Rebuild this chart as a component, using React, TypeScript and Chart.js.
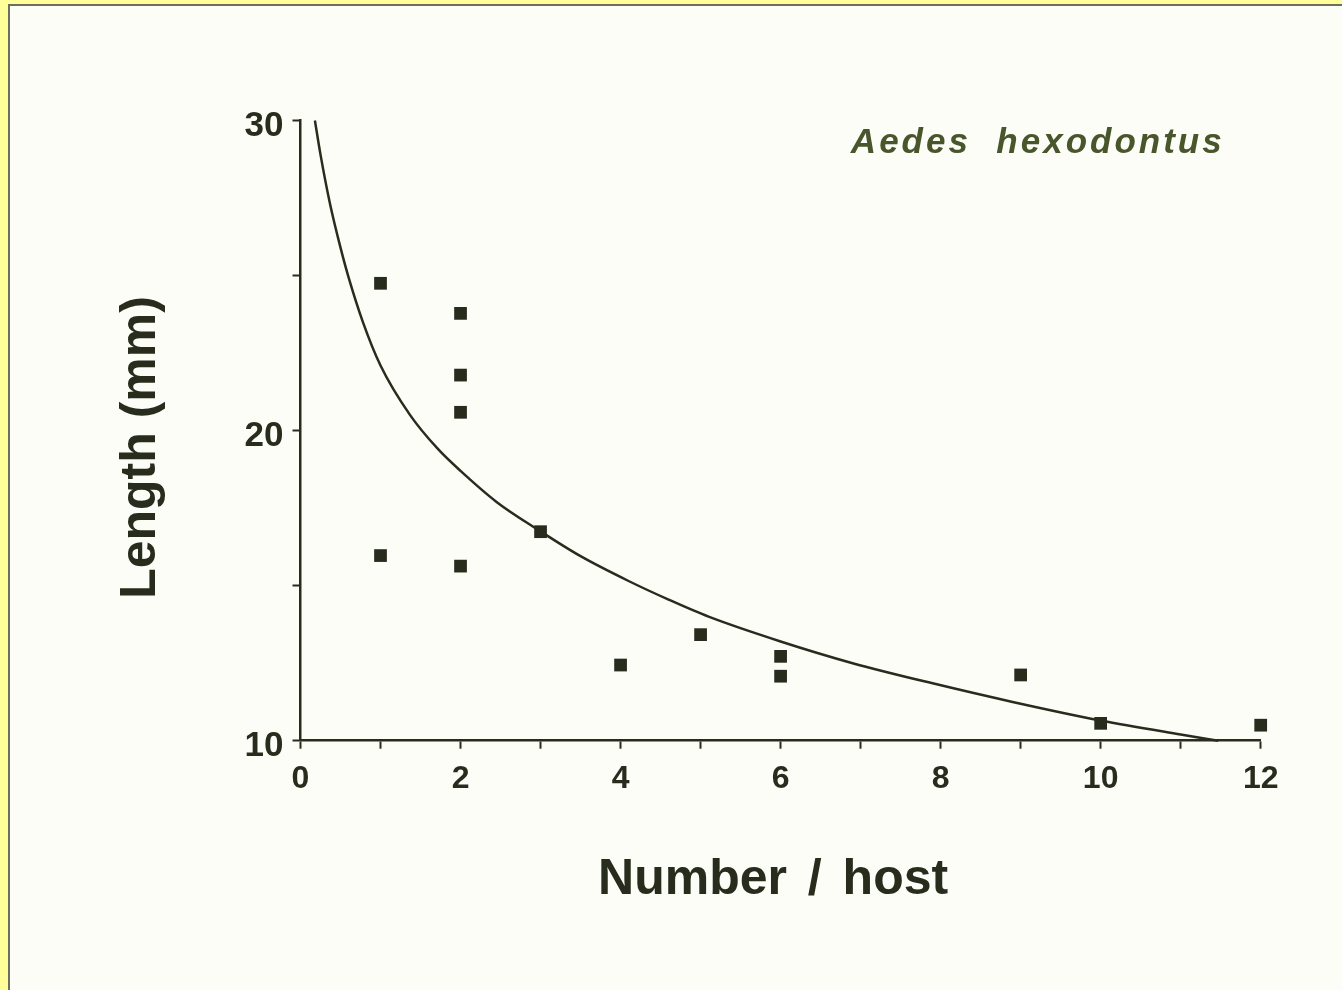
import React, { useEffect, useRef } from "react";
import { Chart, registerables } from "chart.js";

Chart.register(...registerables);

// Observed data (Number / host vs Length (mm))
const pointX = [1, 1, 2, 2, 2, 2, 3, 4, 5, 6, 6, 9, 10, 12];
const pointY = [24.75, 15.97, 23.78, 21.79, 20.59, 15.63, 16.74, 12.44, 13.42, 12.72, 12.08, 12.12, 10.56, 10.5];

// Fitted curve
const curveX = [0.18, 0.25, 0.37, 0.5, 0.6, 0.78, 1.0, 1.37, 1.72, 2.0, 2.45, 3.0, 3.5, 4.1, 4.6, 5.1, 6.0, 6.9, 7.9, 8.9, 10.0, 11.0, 11.47];
const curveY = [30, 28.9, 27.3, 25.9, 24.95, 23.5, 22.1, 20.5, 19.4, 18.7, 17.7, 16.75, 15.95, 15.15, 14.55, 14.0, 13.2, 12.5, 11.85, 11.25, 10.65, 10.2, 10.0];

const xTickLabels = ["0", "2", "4", "6", "8", "10", "12"];
const yTickLabels = ["10", "20", "30"];

const speciesLabel = "Aedes  hexodontus";
const xTitle = "Number / host";
const yTitle = "Length (mm)";

const INK = "#282c1d";
const FONT = "'Liberation Sans', Arial, Helvetica, sans-serif";

export default function App() {
  const ref = useRef<HTMLCanvasElement | null>(null);

  useEffect(() => {
    const canvas = ref.current;
    if (!canvas) return;

    const textPlugin = {
      id: "figureTexts",
      afterDatasetsDraw(chart: any) {
        const { ctx, scales, chartArea } = chart;
        ctx.save();
        // species label
        ctx.font = `italic bold 35px ${FONT}`;
        (ctx as any).letterSpacing = "3px";
        ctx.fillStyle = "#49562b";
        ctx.textAlign = "right";
        ctx.textBaseline = "middle";
        ctx.fillText(speciesLabel, scales.x.getPixelForValue(11.55), scales.y.getPixelForValue(29.25));
        ctx.restore();

        // x axis title
        ctx.save();
        ctx.font = `bold 50px ${FONT}`;
        (ctx as any).wordSpacing = "7px";
        ctx.fillStyle = INK;
        ctx.textAlign = "center";
        ctx.textBaseline = "middle";
        ctx.fillText(xTitle, (chartArea.left + chartArea.right) / 2 - 7.5, chartArea.bottom + 139.3);
        ctx.restore();

        // y axis title
        ctx.save();
        ctx.font = `bold 50px ${FONT}`;
        ctx.fillStyle = INK;
        ctx.textAlign = "center";
        ctx.textBaseline = "middle";
        ctx.translate(chartArea.left - 159.5, chartArea.top + 327);
        ctx.rotate(-Math.PI / 2);
        ctx.fillText(yTitle, 0, 0);
        ctx.restore();
      },
    };

    const chart = new Chart(canvas, {
      type: "scatter",
      data: {
        datasets: [
          {
            label: "observed",
            data: pointX.map((x, i) => ({ x, y: pointY[i] })),
            pointStyle: "rect",
            pointRadius: 9,
            pointBorderWidth: 0,
            backgroundColor: INK,
            borderColor: INK,
            clip: false as any,
          },
          {
            label: "fit",
            data: curveX.map((x, i) => ({ x, y: curveY[i] })),
            showLine: true,
            pointRadius: 0,
            borderColor: INK,
            borderWidth: 2.5,
            cubicInterpolationMode: "monotone",
            fill: false,
            clip: false as any,
          },
        ],
      },
      options: {
        animation: false,
        responsive: false,
        events: [],
        layout: { padding: { left: 0, top: 120.5, right: 81.3, bottom: 0 } },
        plugins: {
          legend: { display: false },
          tooltip: { enabled: false },
          title: { display: false },
        },
        scales: {
          x: {
            type: "linear",
            min: 0,
            max: 12,
            afterFit: (s: any) => {
              s.height = 249.3;
            },
            grid: {
              display: true,
              drawOnChartArea: false,
              drawTicks: true,
              tickLength: 8,
              tickColor: INK,
              tickWidth: 2,
            },
            border: { display: true, color: INK, width: 2.5 },
            ticks: {
              stepSize: 1,
              autoSkip: false,
              maxRotation: 0,
              padding: 11,
              color: INK,
              font: { family: FONT, size: 32, weight: "bold" },
              callback: (v: any) => {
                const s = String(v);
                return xTickLabels.includes(s) ? s : "";
              },
            },
            title: { display: false },
          },
          y: {
            type: "linear",
            min: 10,
            max: 30,
            afterFit: (s: any) => {
              s.width = 300.5;
            },
            grid: {
              display: true,
              drawOnChartArea: false,
              drawTicks: true,
              tickLength: 8,
              tickColor: INK,
              tickWidth: 2,
            },
            border: { display: true, color: INK, width: 2.5 },
            ticks: {
              stepSize: 5,
              autoSkip: false,
              padding: 9,
              labelOffset: 6,
              color: INK,
              font: { family: FONT, size: 35, weight: "bold" },
              callback: (v: any) => {
                const s = String(v);
                return yTickLabels.includes(s) ? s : "";
              },
            },
            title: { display: false },
          },
        },
      },
      plugins: [textPlugin],
    } as any);

    return () => {
      chart.destroy();
    };
  }, []);

  return (
    <div
      style={{
        position: "fixed",
        left: 0,
        top: 0,
        width: 1342,
        height: 990,
        background: "#ffff99",
        overflow: "hidden",
      }}
    >
      <div
        style={{
          position: "absolute",
          left: 8,
          top: 4,
          right: 0,
          bottom: 0,
          background: "#fdfdf8",
          borderLeft: "2px solid #6e6e5c",
          borderTop: "2px solid #6e6e5c",
        }}
      />
      <canvas
        ref={ref}
        width={1342}
        height={990}
        style={{ position: "absolute", left: 0, top: 0, width: 1342, height: 990 }}
      />
    </div>
  );
}
